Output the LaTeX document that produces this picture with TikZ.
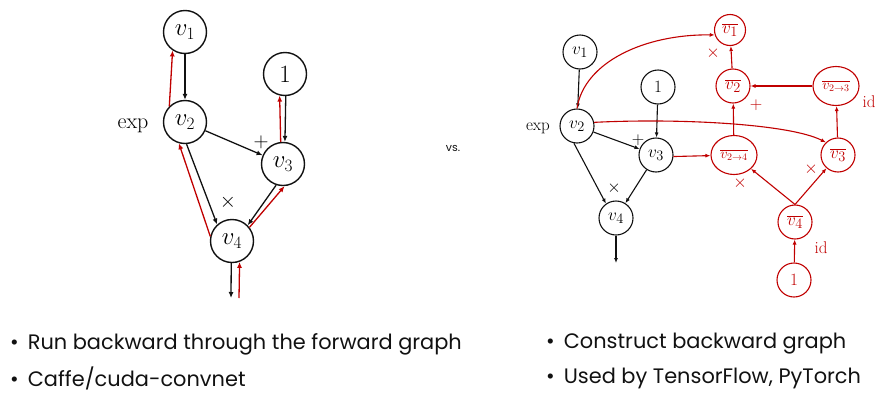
\documentclass[tikz,border=0pt]{standalone}
\usepackage{fontspec}
\setsansfont{Poppins}
\usetikzlibrary{arrows.meta,shapes.geometric}
\definecolor{gred}{HTML}{C00000}
\definecolor{ink}{HTML}{111111}
\begin{document}
\begin{tikzpicture}[x=1pt,y=-1pt,
  fwd/.style={draw=ink,line width=1.4pt,circle,inner sep=0pt,minimum size=43pt,
     font=\fontsize{24}{26}\selectfont},
  fwds/.style={draw=ink,line width=1.1pt,circle,inner sep=0pt,minimum size=34pt,
     font=\fontsize{19}{21}\selectfont},
  bwd/.style={draw=gred,text=gred,line width=1.1pt,circle,inner sep=0pt,minimum size=34pt,
     font=\fontsize{19}{21}\selectfont},
  bwde/.style={draw=gred,text=gred,line width=1.1pt,ellipse,inner sep=0pt,
     minimum width=46pt,minimum height=39pt,font=\fontsize{14}{16}\selectfont},
  ar/.style={draw=ink,line width=1.3pt,-{Latex[length=6pt,width=5pt]}},
  ars/.style={draw=ink,line width=1.1pt,-{Latex[length=5pt,width=4pt]}},
  rar/.style={draw=gred,line width=1.3pt,-{Latex[length=6pt,width=5pt]}},
  rars/.style={draw=gred,line width=1.1pt,-{Latex[length=5pt,width=4pt]}},
  oplab/.style={inner sep=0pt,font=\fontsize{22}{24}\selectfont},
  oplabs/.style={inner sep=0pt,font=\fontsize{17}{19}\selectfont},
  rlab/.style={inner sep=0pt,text=gred,font=\fontsize{17}{19}\selectfont},
  bullet/.style={inner sep=0pt,anchor=west,text=ink,font=\sffamily\fontsize{20.9}{23}\selectfont}
]
\useasboundingbox (0,0) rectangle (875,394);

% ---------- forward graph, walked backward ----------
\node[fwd] (a1) at (185,32) {$v_1$};
\node[fwd] (aone) at (285,74) {$1$};
\node[fwd] (a2) at (185,122) {$v_2$};
\node[fwd] (a3) at (283,164) {$v_3$};
\node[fwd] (a4) at (232,241) {$v_4$};
\coordinate (aout) at (231,298);
\coordinate (ain) at (239,298);

\node[oplab] (aexp) at (133,126) {$\exp$};
\node[oplab] (aplus) at (261,142) {$+$};
\node[oplab] (atimes) at (228,202) {$\times$};

\draw[ar] (a1) -- (a2);
\draw[ar] (aone.-88) -- (a3.85);
\draw[ar] (a2) -- (a3);
\draw[ar] (a2.-86) -- (a4.132);
\draw[ar] (a3.-108) -- (a4.45);
\draw[ar] (a4.-92) -- (aout);

\draw[rar] (a2.135) -- (a1.-124);
\draw[rar] (a3.96) -- (aone.-104);
\draw[rar] (a4.168) -- (a2.-106);
\draw[rar] (a4.38) -- (a3.-86);
\draw[rar] (ain) -- (a4.-70);

\node[inner sep=0pt,text=ink,font=\sffamily\fontsize{11}{12}\selectfont] (vs) at (453,148) {vs.};

% ---------- forward graph with explicit backward graph ----------
\node[fwds] (b1) at (580,52) {$v_1$};
\node[fwds] (bone) at (658,87) {$1$};
\node[fwds] (b2) at (577,126) {$v_2$};
\node[fwds] (b3) at (656,155) {$v_3$};
\node[fwds] (b4) at (616,218) {$v_4$};
\coordinate (bout) at (616,263);

\node[oplabs] (bexp) at (538,128) {$\exp$};
\node[oplabs] (bplus) at (638,140) {$+$};
\node[oplabs] (btimes) at (614,188) {$\times$};

\draw[ars] (b1) -- (b2);
\draw[ars] (bone) -- (b3);
\draw[ars] (b2) -- (b3);
\draw[ars] (b2.-100) -- (b4.125);
\draw[ars] (b3) -- (b4);
\draw[ars] (b4) -- (bout);

\node[bwd,minimum size=31pt] (g1) at (730,30) {$\overline{v_1}$};
\node[bwd] (g2) at (733,86) {$\overline{v_2}$};
\node[bwde] (g23) at (836,86) {$\overline{v_{2\to3}}$};
\node[bwde] (g24) at (734,155) {$\overline{v_{2\to4}}$};
\node[bwd] (g3) at (838,155) {$\overline{v_3}$};
\node[bwd] (g4) at (795,222) {$\overline{v_4}$};
\node[bwd] (gone) at (794,280) {$1$};

\node[rlab] (rt1) at (713,53) {$\times$};
\node[rlab] (rplus) at (756,105) {$+$};
\node[rlab] (rid1) at (869,102) {id};
\node[rlab] (rt2) at (740,183) {$\times$};
\node[rlab] (rt3) at (811,169) {$\times$};
\node[rlab] (rid2) at (821,248) {id};

\draw[rars] (b2.north) .. controls (584,62) and (645,34) .. (g1.198);
\draw[rars] (b2.12) .. controls (680,118) and (790,124) .. (g3.134);
\draw[rars] (b3.-5) -- (g24);
\draw[rars] (g24) -- (g2);
\draw[rars] (g2) -- (g1);
\draw[rars] (g23) -- (g2);
\draw[rars] (g3) -- (g23);
\draw[rars] (g4.north) -- (g24);
\draw[rars] (g4.north) -- (g3);
\draw[rars] (gone) -- (g4);

% ---------- bullet points ----------
\node[bullet] (l1) at (10,344) {\textbullet\hspace{9pt}Run backward through the forward graph};
\node[bullet] (l2) at (10,378) {\textbullet\hspace{9pt}Caffe/cuda-convnet};
\node[bullet] (r1) at (546,344) {\textbullet\hspace{9pt}Construct backward graph};
\node[bullet] (r2) at (546,378) {\textbullet\hspace{9pt}Used by TensorFlow, PyTorch};
\end{tikzpicture}
\end{document}
